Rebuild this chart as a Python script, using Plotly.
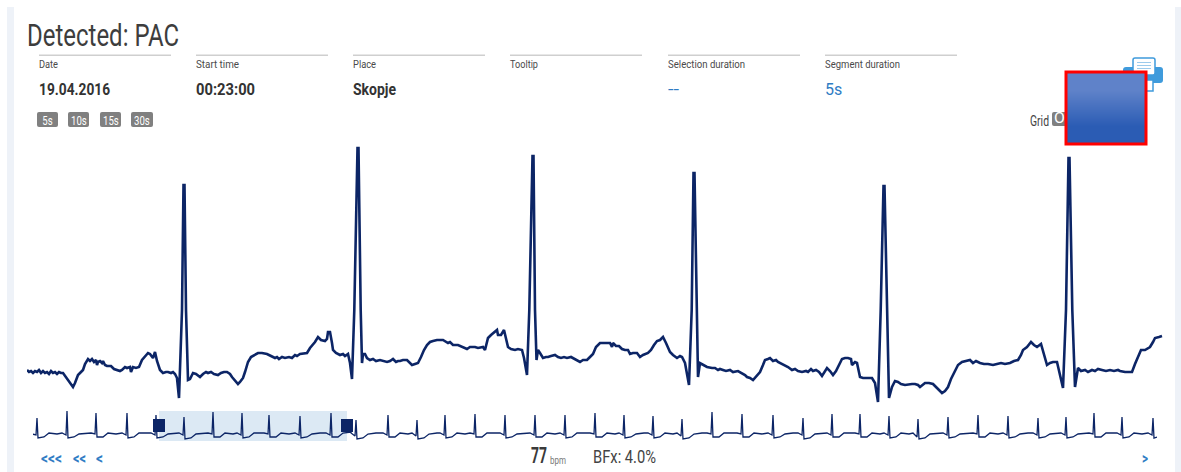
import json
import plotly.graph_objects as go

W, H = 1181, 472
FONT = "Roboto"
NAVY = "#0c2566"
BLUE = "#2f7cc4"

# main trace: (sample, amplitude) readings
readings = [
 (0,35),(2,33),(4,34),(6,32),(8,34),(10,33),(12,35),(14,32),(16,34),(18,32),(20,33),(22,31),(24,34),(26,32),(28,33),(30,31),(32,33),(34,32),(36,32),(38,29),(41,25),(44,20),(46,18),(48,22),(51,30),(54,33),(56,35),(58,41),(61,46),(63,44),(65,46),(67,43),(69,45),(70,40),(71,43),(73,44),(75,42),(76,44),(78,40),(80,39),(84,39),(87,36),(90,35),(93,34),(95,35),(98,38),(100,37),(103,38),(104,33),(106,38),(109,37),(112,38),(115,45),(118,49),(121,52),(123,51),(126,47),(128,53),(130,44),(133,35),(136,32),(139,33),(141,33),(144,32),(146,33),(148,31),(150,27),(152,7),
 (155,95),(156.5,220),(157.5,220),(159,95),(161,25),(163,26),(165,30),(166,32),(169,31),(171,29),(173,28),(176,31),(179,33),(181,32),(184,33),(187,31),(191,30),(194,32),(197,33),(200,33),(203,31),(205,28),(208,24),(211,21),(213,23),(216,27),(218,33),(221,43),(224,48),(227,50),(231,52),(235,52),(240,51),(244,49),(248,47),(250,48),(252,46),(255,48),(258,47),(262,48),(265,47),(268,50),(270,49),(273,51),(277,52),(280,52),(283,57),(286,60),(288,63),(291,68),(294,65),(298,64),(300,66),(301,73),(303,73),(305,62),(306,55),(309,52),(313,50),(316,51),(318,49),(321,51),(323,42),(325,26),
 (327.3,95),(330.5,257),(331.5,257),(333.7,95),(335,42),(336,51),(338,51),(340,47),(343,45),(346,46),(349,44),(353,45),(356,44),(360,43),(363,44),(366,46),(369,43),(371,44),(373,44),(376,45),(380,45),(383,42),(385,40),(388,41),(391,42),(394,48),(397,55),(400,60),(403,63),(406,64),(410,65),(416,65),(419,63),(421,62),(423,63),(426,60),(431,60),(435,58),(438,57),(440,56),(443,58),(448,58),(451,57),(456,58),(458,55),(461,67),(464,70),(468,74),(470,75),(471,70),(474,70),(477,75),(479,65),(481,58),(484,56),(488,55),(491,56),(495,55),(497,47),(498,40),(500,30),
 (502.3,95),(505.5,249),(506.5,249),(508,95),(509.5,45),(511,55),(513,52),(516,47),(519,48),(521,48),(524,49),(528,50),(531,48),(534,47),(537,48),(540,47),(544,48),(548,46),(551,44),(553,43),(556,45),(560,45),(563,48),(566,51),(569,58),(573,62),(577,62),(583,62),(585,58),(586,62),(589,59),(592,59),(595,56),(598,55),(601,55),(603,51),(606,52),(610,52),(613,48),(616,50),(621,52),(624,55),(627,60),(630,64),(633,65),(636,68),(639,62),(643,53),(646,50),(650,47),(653,49),(655,48),(658,42),(660,30),(662,20),
 (664.7,95),(666.5,232),(667.5,232),(669.7,95),(671,28),(673,42),(676,40),(680,38),(685,37),(688,37),(691,35),(693,36),(696,35),(699,34),(703,35),(706,33),(711,34),(715,32),(718,30),(720,28),(723,27),(726,25),(729,28),(733,33),(736,40),(738,45),(741,46),(743,47),(746,44),(749,45),(751,43),(753,42),(757,40),(761,38),(765,35),(768,36),(771,34),(775,33),(779,34),(781,33),(784,36),(786,34),(789,35),(792,33),(795,29),(798,34),(800,37),(803,34),(806,30),(809,34),(812,40),(815,46),(818,47),(821,47),(824,46),(825,40),(828,43),(830,42),(833,28),(836,27),(840,27),(845,27),(848,22),(851,3),
 (853.7,95),(856.5,219),(857.5,219),(860.3,95),(862,7),(865,18),(868,24),(871,23),(874,21),(878,20),(882,21),(885,21),(888,21),(891,20),(893,18),(896,20),(898,22),(902,22),(906,21),(909,18),(912,15),(915,12),(918,14),(921,18),(924,26),(928,35),(931,40),(935,43),(939,44),(943,45),(946,42),(949,44),(953,42),(957,41),(961,41),(966,40),(970,41),(974,42),(978,41),(983,42),(987,44),(991,45),(994,50),(996,55),(1000,58),(1004,63),(1007,60),(1010,58),(1014,61),(1017,50),(1020,40),(1023,42),(1026,43),(1030,43),(1033,30),(1036,17),
 (1039,95),(1041.5,247),(1042.5,247),(1045.3,95),(1048,18),(1051,37),(1054,34),(1058,35),(1061,33),(1065,35),(1068,34),(1071,36),(1075,35),(1079,34),(1083,35),(1087,34),(1091,35),(1093,34),(1098,33),(1102,33),(1105,33),(1108,41),(1111,48),(1114,55),(1118,55),(1123,58),(1126,63),(1128,67),(1132,68),(1135,69),
]
ecg_sample = [r[0] for r in readings]
ecg_amp = [r[1] for r in readings]

# overview strip
strip_sample = [
 -1,3,4,5,11,16,24, 29,33,34,35,41,46,54, 58,62,63,64,70,75,83, 89,93,94,95,101,106,114, 118,122,123,124,130,135,143,
 146,150,151,152,158,163,171, 175,179,180,181,187,192,200, 204,208,209,210,216,221,229, 231,235,236,237,243,248,256, 262,266,267,268,274,279,287,
 293,297,298,299,305,310,318, 318,322,323,324,330,335,343, 350,354,355,356,362,367,375, 379,383,384,385,391,396,404, 407,411,412,413,419,424,432,
 437,441,442,443,449,454,462, 467,471,472,473,479,484,492, 497,501,502,503,509,514,522, 527,531,532,533,539,544,552, 557,561,562,563,569,574,582,
 586,590,591,592,598,603,611, 615,619,620,621,627,632,640, 644,648,649,650,656,661,669, 674,678,679,680,686,691,699, 704,708,709,710,716,721,729,
 735,739,740,741,747,752,760, 765,769,770,771,777,782,790, 794,798,799,800,806,811,819, 822,826,827,828,834,839,847, 851,855,856,857,863,868,876,
 880,884,885,886,892,897,905, 910,914,915,916,922,927,935, 940,944,945,946,952,957,965, 970,974,975,976,982,987,995, 1000,1004,1005,1006,1012,1017,1025,
 1028,1032,1033,1034,1040,1045,1053, 1056,1060,1061,1062,1068,1073,1081, 1084,1088,1089,1090,1096,1101,1109, 1115,1119,1120,1121,1124]
strip_amp = [
 11,10,27,7,8,12,11, 12,10,34,7,8,11,12, 12,11,32,8,8,12,11, 12,10,32,7,8,12,12, 12,10,30,7,8,11,12,
 12,10,28,6,7,11,12, 12,11,33,8,8,12,11, 12,10,32,7,8,12,12, 12,11,30,8,8,12,11, 12,10,29,7,8,11,12,
 12,10,32,8,8,12,13, 12,9,25,6,7,11,12, 12,10,30,8,8,12,11, 12,9,25,6,7,11,12, 12,10,30,7,8,12,11,
 12,11,31,8,8,12,12, 12,10,30,7,8,11,12, 12,10,30,8,8,12,11, 12,10,30,7,8,12,12, 12,11,32,8,8,12,11,
 12,10,30,7,8,11,12, 12,10,29,7,8,12,11, 12,9,26,6,7,11,12, 12,11,33,8,8,12,12, 12,11,31,8,8,12,11,
 12,10,30,7,8,11,12, 12,10,27,6,7,11,12, 12,10,31,8,8,12,12, 12,11,31,8,8,12,11, 12,10,29,7,8,12,11,
 12,8,26,6,7,11,12, 12,10,28,7,8,11,12, 12,11,30,8,8,12,11, 12,10,29,7,8,11,12, 12,10,27,7,8,11,12,
 12,10,28,7,8,11,12, 12,11,32,8,8,12,12, 12,10,28,7,8,12,11, 12,10,27,7,8]

info_labels = ["Date", "Start time", "Place", "Tooltip", "Selection duration", "Segment duration"]
info_values = ["19.04.2016", "00:23:00", "Skopje", "", "--", "5s"]
info_left = [39, 196, 353, 510, 668, 825]
range_labels = ["5s", "10s", "15s", "30s"]
range_left = [37, 68, 100, 131]
range_right = [58, 89, 121, 153]

# widths the texts take in the reference
text_width = {"Detected: PAC": 152, "Date": 19, "Start time": 43, "Place": 23, "Tooltip": 28,
              "Selection duration": 77, "Segment duration": 75, "19.04.2016": 71, "00:23:00": 59,
              "Skopje": 43, "--": 11, "Grid": 19, "ON": 22, "<<<": 21, "<<": 13, "<": 7, ">": 6,
              "77": 16, "bpm": 16, "BFx: 4.0%": 63}


def fx(x):
    return x / W


def fy(y):
    return 1 - y / H


def text(x, y, s, size, color="#444444", anchor="left", bold=False):
    label = f"<b>{s}</b>" if bold else s
    return dict(xref="paper", yref="paper", x=fx(x), y=fy(y), text=label, showarrow=False,
                xanchor=anchor, yanchor="middle", font=dict(size=size, color=color, family=FONT),
                borderpad=0, borderwidth=0)


def rect(x0, y0, x1, y1, fill, layer="below", line=None, lw=0):
    return dict(type="rect", xref="paper", yref="paper", x0=fx(x0), x1=fx(x1), y0=fy(y0), y1=fy(y1),
                fillcolor=fill, line=dict(color=line or fill, width=lw), layer=layer)


def rrect(x0, y0, x1, y1, r, fill, line=None, lw=0):
    X = lambda v: f"{fx(v):.5f}"
    Y = lambda v: f"{fy(v):.5f}"
    path = (f"M{X(x0+r)},{Y(y0)} L{X(x1-r)},{Y(y0)} Q{X(x1)},{Y(y0)} {X(x1)},{Y(y0+r)} "
            f"L{X(x1)},{Y(y1-r)} Q{X(x1)},{Y(y1)} {X(x1-r)},{Y(y1)} L{X(x0+r)},{Y(y1)} "
            f"Q{X(x0)},{Y(y1)} {X(x0)},{Y(y1-r)} L{X(x0)},{Y(y0+r)} Q{X(x0)},{Y(y0)} {X(x0+r)},{Y(y0)} Z")
    return dict(type="path", xref="paper", yref="paper", path=path, fillcolor=fill,
                line=dict(color=line or fill, width=lw), layer="below")


fig = go.Figure()
fig.add_trace(go.Scatter(x=ecg_sample, y=ecg_amp, mode="lines", xaxis="x", yaxis="y",
                         line=dict(color=NAVY, width=2.6), hoverinfo="skip", showlegend=False))
fig.add_trace(go.Scatter(x=strip_sample, y=strip_amp, mode="lines", xaxis="x2", yaxis="y2",
                         line=dict(color=NAVY, width=1.3), hoverinfo="skip", showlegend=False))
# the Grid switch lies under the blue panel, so its label goes in a subplot below the panel's
fig.add_trace(go.Scatter(x=[0], y=[0], mode="text", text=["ON"], textposition="middle right",
                         textfont=dict(family=FONT, size=15, color="#ffffff"), xaxis="x3", yaxis="y3",
                         hoverinfo="skip", showlegend=False, cliponaxis=False))
fig.add_trace(go.Heatmap(z=[[0, 0], [1, 1]], xaxis="x4", yaxis="y4", zsmooth="best", showscale=False,
                         colorscale=[[0, "#5f82c9"], [1, "#2b5cb4"]], hoverinfo="skip"))

hidden = dict(visible=False, fixedrange=True)
PRN = "#3f9bdc"
shapes = [rect(7, 7, 14, H, "#eef2f8"), rect(1175, 7, W, H, "#eef2f8"),
          rect(159, 411, 347, 441, "#dce9f4"),
          rect(153, 419, 165, 432, NAVY, "above"), rect(341, 419, 353, 432, NAVY, "above"),
          rrect(1123, 67, 1163, 83, 3, PRN),
          rrect(1133, 58, 1155, 75, 2, "#ffffff", PRN, 1.5),
          rect(1137, 62, 1151, 63, "#9ccbec"), rect(1137, 65, 1151, 66, "#9ccbec"), rect(1137, 68, 1151, 69, "#9ccbec"),
          rect(1136, 80, 1153, 91, "#ffffff", line=PRN, lw=1.5),
          rrect(1052, 112, 1075, 126, 2, "#808080"),
          rect(1066, 72, 1146, 144, "rgba(0,0,0,0)", "above", "#ff0000", 3)]
annotations = [text(27, 35, "Detected: PAC", 32, "#3d3d3d")]
for left, lab, val in zip(info_left, info_labels, info_values):
    shapes.append(rect(left, 54.5, left + 132, 56, "#cfcfcf"))
    annotations.append(text(left, 65, lab, 11, "#4a4a4a"))
    if val:
        is_blue = lab in ("Selection duration", "Segment duration")
        annotations.append(text(left, 89, val, 16, BLUE if is_blue else "#333333", bold=not is_blue))
for lab, x0, x1 in zip(range_labels, range_left, range_right):
    shapes.append(rrect(x0, 112, x1, 127, 2, "#808080"))
    annotations.append(text((x0 + x1) / 2, 120.5, lab, 12, "#ffffff", anchor="center"))
annotations += [text(1030, 121, "Grid", 14),
                text(41, 458, "<<<", 16, BLUE, bold=True),
                text(73, 458, "<<", 16, BLUE, bold=True),
                text(96, 458, "<", 16, BLUE, bold=True),
                text(1142, 458, ">", 16, BLUE, bold=True),
                text(531, 455.5, "77", 22, "#3a3a3a", bold=True),
                text(550, 460, "bpm", 10, "#777777"),
                text(593, 456, "BFx: 4.0%", 18, "#444444")]

fig.update_layout(
    width=W, height=H, margin=dict(l=0, r=0, t=0, b=0),
    paper_bgcolor="#ffffff", plot_bgcolor="rgba(0,0,0,0)", showlegend=False,
    xaxis=dict(domain=[fx(27), fx(1163)], range=[0, 1136], **hidden),
    yaxis=dict(domain=[fy(405), fy(140)], range=[0, 265], **hidden),
    xaxis2=dict(domain=[fx(33), fx(1157)], range=[0, 1124], anchor="y2", **hidden),
    yaxis2=dict(domain=[fy(445), fy(405)], range=[0, 40], anchor="x2", **hidden),
    xaxis3=dict(domain=[fx(1054), fx(1075)], range=[0, 1], anchor="y3", **hidden),
    yaxis3=dict(domain=[fy(126), fy(112)], range=[-1, 1], anchor="x3", **hidden),
    xaxis4=dict(domain=[fx(1066), fx(1146)], anchor="y4", **hidden),
    yaxis4=dict(domain=[fy(144), fy(72)], anchor="x4", autorange="reversed", **hidden),
    shapes=shapes, annotations=annotations,
)

# no condensed face is installed, so the texts are narrowed to the reference's widths
post = """
document.body.style.margin='0';document.body.style.overflow='hidden';
var TW=%s;
function narrow(){
  document.querySelectorAll('.annotation-text, .textpoint text').forEach(function(el){
    var s=el.textContent, fill=el.style.fill||'', white=fill.indexOf('255, 255, 255')>=0;
    var isButton=white && /^[0-9]+s$/.test(s);
    var target=TW[s]; var w=el.getComputedTextLength(); if(!w) return;
    var k=isButton?0.8:(target?target/w:1);
    var b=el.getBBox(); var ox=isButton?b.x+b.width/2:b.x;
    el.setAttribute('transform','translate('+(ox*(1-k))+',0) scale('+k+',1)');
  });
}
setTimeout(narrow,60);setTimeout(narrow,400);
""" % json.dumps(text_width)
fig.write_html("out.html", config={"displayModeBar": False}, post_script=post)
